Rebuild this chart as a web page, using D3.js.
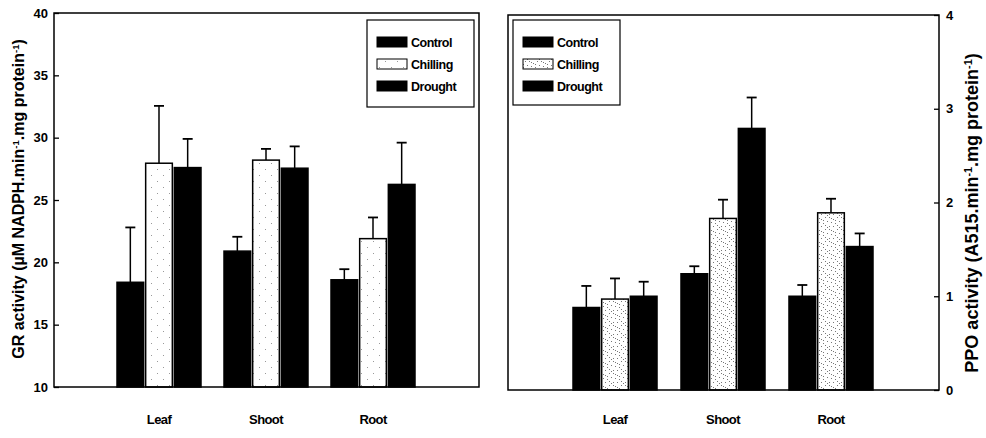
<!DOCTYPE html>
<html><head><meta charset="utf-8">
<script src="https://cdn.jsdelivr.net/npm/d3@7"></script>
<style>
body{margin:0;background:#fff;}
svg{display:block;font-family:"Liberation Sans",Arial,sans-serif;font-weight:bold;}
</style></head>
<body><svg id="c" width="986" height="438"></svg>
<script>
// ---- data ----
const categories = ["Leaf", "Shoot", "Root"];
const seriesNames = ["Control", "Chilling", "Drought"];

const grControl = [18.4, 20.9, 18.6];
const grControlErr = [4.4, 1.15, 0.85];
const grChilling = [27.95, 28.2, 21.9];
const grChillingErr = [4.6, 0.9, 1.7];
const grDrought = [27.6, 27.55, 26.25];
const grDroughtErr = [2.3, 1.75, 3.35];

const ppoControl = [0.88, 1.24, 1.0];
const ppoControlErr = [0.23, 0.08, 0.12];
const ppoChilling = [0.97, 1.83, 1.89];
const ppoChillingErr = [0.22, 0.2, 0.15];
const ppoDrought = [1.0, 2.79, 1.53];
const ppoDroughtErr = [0.155, 0.33, 0.14];

const grTicks = [10, 15, 20, 25, 30, 35, 40];
const ppoTicks = [0, 1, 2, 3, 4];

// ---- drawing ----
const svg = d3.select("#c");
const defs = svg.append("defs");

function makeDots(id, density, color) {
  const p = defs.append("pattern").attr("id", id).attr("patternUnits", "userSpaceOnUse")
    .attr("width", 12).attr("height", 12);
  p.append("rect").attr("width", 12).attr("height", 12).attr("fill", "#fff");
  // fixed stipple layout (decorative texture only)
  const pts = [[1,1],[7,7],[5,3],[11,5],[9,1],[3,6],[1,10],[5,10],[9,9],[3,2],[7,4],[11,11]];
  pts.slice(0, density).forEach(q => p.append("rect").attr("x", q[0]).attr("y", q[1])
    .attr("width", 1).attr("height", 1).attr("fill", color));
}
makeDots("dotsL", 2, "#999");
makeDots("dotsR", 12, "#777");

function panel(cfg) {
  const g = svg.append("g");
  const y = d3.scaleLinear().domain(cfg.yDomain).range([cfg.y1, cfg.y0]);
  const x0 = d3.scaleBand().domain(categories).range(cfg.groupRange).paddingInner(cfg.padIn).paddingOuter(0);
  const x1 = d3.scaleBand().domain(seriesNames).range([0, x0.bandwidth()]).paddingInner(0.07);
  const fills = {Control: "#000", Chilling: cfg.chillFill, Drought: "#000"};

  cfg.series.forEach((s, si) => {
    const name = seriesNames[si];
    categories.forEach((c, ci) => {
      const bx = x0(c) + x1(name), bw = x1.bandwidth();
      const v = s.vals[ci], e = s.errs[ci];
      g.append("line").attr("x1", bx + bw / 2).attr("x2", bx + bw / 2)
        .attr("y1", y(v)).attr("y2", y(v + e)).attr("stroke", "#000").attr("stroke-width", 1.5);
      g.append("line").attr("x1", bx + bw / 2 - 5).attr("x2", bx + bw / 2 + 5)
        .attr("y1", y(v + e)).attr("y2", y(v + e)).attr("stroke", "#000").attr("stroke-width", 1.8);
      g.append("rect").attr("x", bx).attr("y", y(v)).attr("width", bw)
        .attr("height", y(cfg.yDomain[0]) - y(v))
        .attr("fill", fills[name]).attr("stroke", "#000").attr("stroke-width", 1.5);
    });
  });

  // frame
  g.append("rect").attr("x", cfg.x0).attr("y", cfg.y0).attr("width", cfg.x1 - cfg.x0)
    .attr("height", cfg.y1 - cfg.y0).attr("fill", "none").attr("stroke", "#000").attr("stroke-width", 1.5);

  // value axis
  const axisX = cfg.axisSide === "left" ? cfg.x0 : cfg.x1;
  const ax = (cfg.axisSide === "left" ? d3.axisLeft(y) : d3.axisRight(y))
    .tickValues(cfg.ticks).tickFormat(d3.format("d")).tickSizeInner(-5).tickSizeOuter(0).tickPadding(cfg.tickPad);
  const ag = g.append("g").attr("transform", `translate(${axisX},0)`).call(ax);
  ag.select(".domain").remove();
  ag.selectAll("line").attr("stroke", "#000").attr("stroke-width", 1.3);
  ag.selectAll("text").attr("font-size", 13).attr("font-weight", "bold")
    .attr("font-family", "'Liberation Sans',Arial,sans-serif").attr("fill", "#000");

  // category labels
  const cx = d3.axisBottom(x0).tickSize(0).tickPadding(0);
  const cg = g.append("g").attr("transform", `translate(0,${cfg.labelY})`).call(cx);
  cg.select(".domain").remove();
  cg.selectAll("text").attr("font-size", 13).attr("font-weight", "bold")
    .attr("font-family", "'Liberation Sans',Arial,sans-serif").attr("fill", "#000")
    .attr("letter-spacing", -0.6);

  // legend
  const L = cfg.legend;
  g.append("rect").attr("x", L.x).attr("y", L.y).attr("width", L.w).attr("height", L.h)
    .attr("fill", "#fff").attr("stroke", "#000").attr("stroke-width", 1.2);
  seriesNames.forEach((n, i) => {
    const yy = L.y + 22 + i * 22;
    g.append("rect").attr("x", L.x + 10).attr("y", yy - 5).attr("width", 30).attr("height", 10)
      .attr("fill", fills[n]).attr("stroke", "#000").attr("stroke-width", 1);
    g.append("text").attr("x", L.x + 44).attr("y", yy + 4.5).attr("font-size", 12.5)
      .attr("letter-spacing", -0.5).text(n);
  });

  // axis title
  const t = g.append("text").attr("transform", `translate(${cfg.titleX},${cfg.titleY}) rotate(-90)`)
    .attr("text-anchor", "middle").attr("font-size", cfg.titleSize);
  cfg.title.forEach(part => {
    const ts = t.append("tspan").text(part[0]);
    if (part[1]) ts.attr("font-size", cfg.titleSize * 0.6).attr("baseline-shift", "super");
  });
}

panel({
  x0: 54, x1: 479, y0: 13, y1: 387, yDomain: [10, 40], ticks: grTicks, axisSide: "left", tickPad: 6,
  groupRange: [117, 415], padIn: 0.215, chillFill: "url(#dotsL)", labelY: 415,
  series: [{vals: grControl, errs: grControlErr}, {vals: grChilling, errs: grChillingErr}, {vals: grDrought, errs: grDroughtErr}],
  legend: {x: 367, y: 20, w: 107, h: 87},
  titleX: 24, titleY: 199, titleSize: 16,
  title: [["GR activity (\u00b5M NADPH.min"], ["-1", true], [".mg protein"], ["-1", true], [")"]]
});

panel({
  x0: 508, x1: 939, y0: 15, y1: 390, yDomain: [0, 4], ticks: ppoTicks, axisSide: "right", tickPad: 7,
  groupRange: [573, 873], padIn: 0.222, chillFill: "url(#dotsR)", labelY: 415,
  series: [{vals: ppoControl, errs: ppoControlErr}, {vals: ppoChilling, errs: ppoChillingErr}, {vals: ppoDrought, errs: ppoDroughtErr}],
  legend: {x: 513, y: 20, w: 107, h: 85},
  titleX: 978, titleY: 213, titleSize: 18,
  title: [["PPO activity (A515.min"], ["-1", true], [".mg protein"], ["-1", true], [")"]]
});
</script></body></html>
